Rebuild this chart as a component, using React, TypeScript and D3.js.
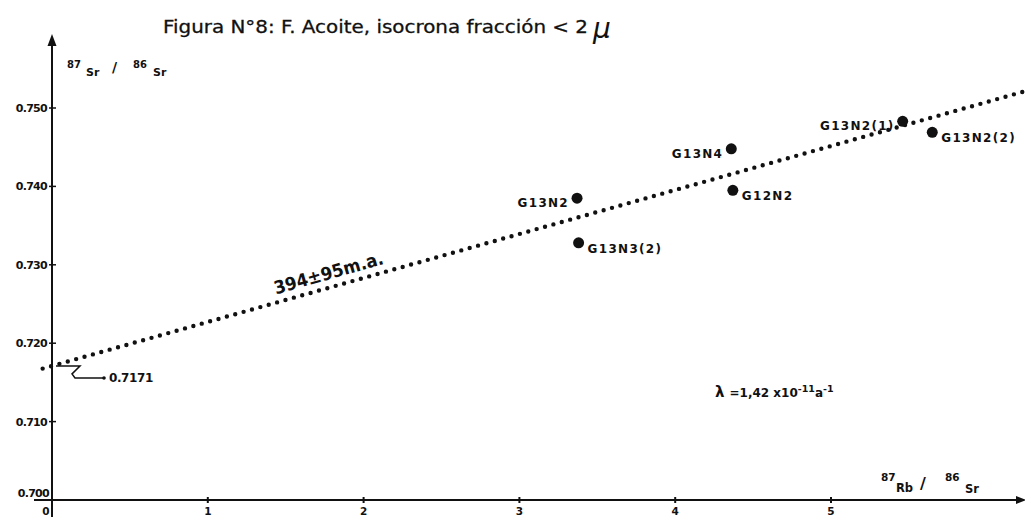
import React from "react";
import * as d3 from "d3";

// Rb–Sr isochron samples (< 2 µ fraction)
const sampleNames = ["G13N2", "G13N3(2)", "G13N4", "G12N2", "G13N2(1)", "G13N2(2)"];
const rbSr = [3.37, 3.38, 4.36, 4.37, 5.46, 5.65];
const srSr = [0.7385, 0.7328, 0.7448, 0.7395, 0.7483, 0.7469];
// label placement relative to the dot: "left" or "right"
const labelSide = ["left", "right", "left", "right", "left", "right"];

const yTicks = [0.7, 0.71, 0.72, 0.73, 0.74, 0.75];
const yTickLabels = ["0.700", "0.710", "0.720", "0.730", "0.740", "0.750"];
const xTicks = [0, 1, 2, 3, 4, 5];

const initialRatio = 0.7171;
const ageMa = 394;
const lambda = 1.42e-11;
const lineExtent = [-0.06, 6.26];

const W = 1025;
const H = 518;
const FONT = "'DejaVu Sans', Verdana, sans-serif";

export default function App() {
  const x = d3.scaleLinear().domain([0, 5]).range([52, 831]);
  const y = d3.scaleLinear().domain([0.7, 0.75]).range([500, 108]);

  const slope = Math.expm1(lambda * ageMa * 1e6);
  const iso = (v: number) => initialRatio + slope * v;
  const line = d3
    .line<number>()
    .x((d) => x(d))
    .y((d) => y(iso(d)));

  const angle =
    (Math.atan2(y(iso(1)) - y(iso(0)), x(1) - x(0)) * 180) / Math.PI;
  const lblX = 1.8;

  const x0 = x(0);
  const y0 = y(0.7);
  const yInit = y(initialRatio);

  return (
    <svg
      width={W}
      height={H}
      style={{ position: "absolute", left: 0, top: 0, background: "#fff" }}
      fontFamily={FONT}
    >
      <rect width={W} height={H} fill="#fff" />

      {/* title */}
      <text x={163} y={33} fontSize={17.5} fill="#111" stroke="#111" strokeWidth={0.3} textLength={425} lengthAdjust="spacingAndGlyphs">
        Figura N°8: F. Acoite, isocrona fracción &lt; 2
      </text>
      <text x={593} y={38} fontSize={28} fontStyle="italic" fill="#111">
        μ
      </text>

      {/* axes */}
      <line x1={x0} x2={x0} y1={517} y2={42} stroke="#111" strokeWidth={2} />
      <path d={`M${x0},34 L${x0 - 4.5},46 L${x0 + 4.5},46 Z`} fill="#111" />
      <line x1={34} x2={1020} y1={y0} y2={y0} stroke="#111" strokeWidth={2} />
      <path d={`M1026,${y0} L1016,${y0 - 4} L1016,${y0 + 4} Z`} fill="#111" />

      {/* y ticks */}
      {yTicks.map((t, i) => (
        <g key={"y" + i}>
          <line x1={x0 - 3} x2={x0 + 4} y1={y(t)} y2={y(t)} stroke="#111" strokeWidth={1.5} />
          <text
            x={i === 0 ? 49 : 47}
            y={i === 0 ? y(t) - 3 : y(t) + 4}
            textAnchor="end"
            fontSize={11}
            fontWeight="bold"
            fill="#111"
            letterSpacing={-0.7}
          >
            {yTickLabels[i]}
          </text>
        </g>
      ))}

      {/* x ticks */}
      {xTicks.map((t) => (
        <g key={"x" + t}>
          <line x1={x(t)} x2={x(t)} y1={y0 - 3} y2={y0 + 3} stroke="#111" strokeWidth={2} />
          <text
            x={t === 0 ? x(t) - 6 : x(t)}
            y={y0 + 15}
            textAnchor="middle"
            fontSize={10.5}
            fontWeight="bold"
            fill="#111"
          >
            {t}
          </text>
        </g>
      ))}

      {/* axis titles */}
      <g fontWeight="bold" fill="#111">
        <text x={67} y={68} fontSize={10}>87</text>
        <text x={86} y={76} fontSize={11}>Sr</text>
        <text x={112} y={72} fontSize={14}>/</text>
        <text x={133} y={68} fontSize={10}>86</text>
        <text x={153} y={76} fontSize={11}>Sr</text>

        <text x={881} y={481} fontSize={10.5}>87</text>
        <text x={896} y={492} fontSize={11.5}>Rb</text>
        <text x={920} y={489} fontSize={16}>/</text>
        <text x={945} y={481} fontSize={10.5}>86</text>
        <text x={965} y={493} fontSize={11.5}>Sr</text>
      </g>

      {/* isochron */}
      <path
        d={line(lineExtent) || ""}
        fill="none"
        stroke="#111"
        strokeWidth={4.4}
        strokeLinecap="round"
        strokeDasharray="0 8.7"
      />
      <text
        transform={`translate(${x(lblX)},${y(iso(lblX))}) rotate(${angle})`}
        y={-8}
        textAnchor="middle"
        fontSize={18}
        fontWeight="bold"
        fill="#111"
        textLength={113}
        lengthAdjust="spacingAndGlyphs"
      >
        394±95m.a.
      </text>

      {/* initial ratio callout */}
      <polyline
        points={`${x0 + 4},${yInit} ${x0 + 28},${yInit} ${x0 + 20},${yInit + 8} ${x0 + 23},${yInit + 12} ${x0 + 51},${yInit + 12}`}
        fill="none"
        stroke="#111"
        strokeWidth={1.5}
      />
      <circle cx={x0 + 52} cy={yInit + 12} r={1.8} fill="#111" />
      <text x={x0 + 57} y={yInit + 16} fontSize={12} fontWeight="bold" fill="#111" letterSpacing={-0.4}>
        0.7171
      </text>

      {/* samples */}
      {sampleNames.map((n, i) => {
        const cx = x(rbSr[i]);
        const cy = y(srSr[i]);
        const left = labelSide[i] === "left";
        return (
          <g key={n}>
            <circle cx={cx} cy={cy} r={5.5} fill="#111" />
            <text
              x={left ? cx - 8 : cx + 9}
              y={cy + (left ? 9 : 10)}
              textAnchor={left ? "end" : "start"}
              fontSize={12}
              fontWeight="bold"
              fill="#111"
              letterSpacing={1.3}
            >
              {n}
            </text>
          </g>
        );
      })}

      {/* decay constant */}
      <text x={715} y={397} fontSize={15} fontWeight="bold" fill="#111">
        λ
        <tspan fontSize={12} dx={5}>=1,42 x10</tspan>
        <tspan fontSize={9.5} dy={-5}>-11</tspan>
        <tspan fontSize={12} dy={5}>a</tspan>
        <tspan fontSize={9.5} dy={-5}>-1</tspan>
      </text>
    </svg>
  );
}
